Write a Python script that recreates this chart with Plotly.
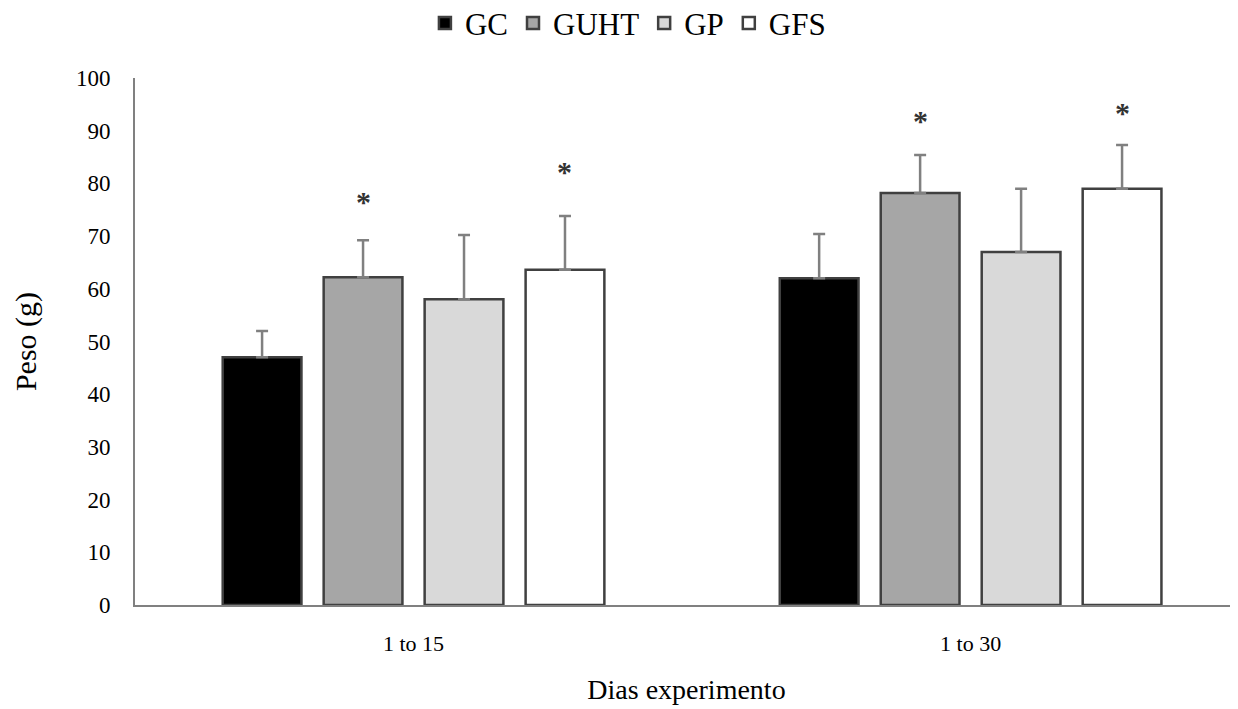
import plotly.graph_objects as go

categories = ["1 to 15", "1 to 30"]
series_names = ["GC", "GUHT", "GP", "GFS"]
values = {
    "GC":   [47.0, 62.0],
    "GUHT": [62.2, 78.2],
    "GP":   [58.0, 67.0],
    "GFS":  [63.6, 79.0],
}
errors = {
    "GC":   [5.0, 8.4],
    "GUHT": [7.0, 7.2],
    "GP":   [12.2, 12.0],
    "GFS":  [10.2, 8.3],
}
fills = {"GC": "#000000", "GUHT": "#a6a6a6", "GP": "#d9d9d9", "GFS": "#ffffff"}
# significance markers: (series, category index, y position of asterisk)
stars = [("GUHT", 0, 76.6), ("GFS", 0, 82.2), ("GUHT", 1, 92.0), ("GFS", 1, 93.5)]

BARGAP = 0.275
GROUPGAP = 0.22
FONT = "Liberation Serif, Times New Roman, serif"

fig = go.Figure()
for name in series_names:
    fig.add_trace(go.Bar(
        name=name,
        x=categories,
        y=values[name],
        marker=dict(color=fills[name], line=dict(color="#404040", width=2.5)),
        error_y=dict(type="data", array=errors[name], symmetric=False,
                     arrayminus=[0] * len(categories),
                     color="#808080", thickness=2.5, width=6),
    ))

slot = (1 - BARGAP) / len(series_names)
for name, ci, ys in stars:
    i = series_names.index(name)
    xpos = ci + (i - (len(series_names) - 1) / 2) * slot
    fig.add_annotation(x=xpos, y=ys, xref="x", yref="y", text="<b>*</b>",
                       showarrow=False, yanchor="middle",
                       font=dict(family=FONT, size=30, color="#333333"))

fig.update_layout(
    width=1230, height=701,
    margin=dict(l=127, r=0, t=70, b=104, autoexpand=False),
    paper_bgcolor="white", plot_bgcolor="white",
    barmode="group", bargap=BARGAP, bargroupgap=GROUPGAP,
    font=dict(family=FONT, color="#000000"),
    showlegend=True,
    legend=dict(orientation="h", x=0.504, xref="container", xanchor="center",
                y=0.978, yref="container", yanchor="middle",
                font=dict(family=FONT, size=31),
                itemwidth=30, tracegroupgap=0, traceorder="normal"),
    xaxis=dict(
        type="category", range=[-0.5, 1.48], automargin=False,
        showline=True, linecolor="#808080", linewidth=2,
        ticks="", showgrid=False, zeroline=False,
        tickfont=dict(family=FONT, size=22), ticklabelstandoff=18,
        title=dict(text="Dias experimento", font=dict(family=FONT, size=28), standoff=24),
    ),
    yaxis=dict(
        range=[0, 100], dtick=10, tick0=0, automargin=False,
        showline=True, linecolor="#808080", linewidth=2,
        ticks="", showgrid=False, zeroline=False,
        tickfont=dict(family=FONT, size=23), ticklabelstandoff=18,
        title=dict(text="Peso (g)", font=dict(family=FONT, size=30), standoff=30),
    ),
)

fig.write_html("out.html")
